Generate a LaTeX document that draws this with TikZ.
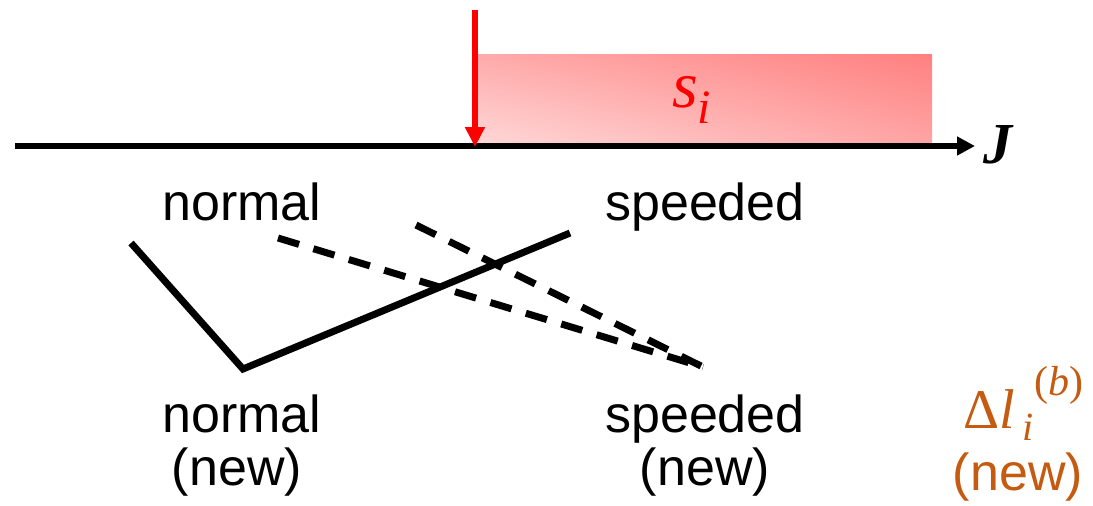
\documentclass[tikz,border=0pt]{standalone}
\usepackage{fontspec}
\setmainfont{Liberation Sans}
\newfontfamily\serifit{Liberation Serif}
\usetikzlibrary{arrows.meta,shadings}
\definecolor{redA}{RGB}{255,0,0}
\definecolor{orangeA}{RGB}{197,90,17}
\definecolor{pinkLL}{RGB}{255,216,216}
\definecolor{pinkUR}{RGB}{255,128,128}
\definecolor{pinkUL}{RGB}{255,170,170}
\definecolor{pinkLR}{RGB}{255,165,165}
\tikzset{
  lbl/.style={font=\fontsize{52}{56}\selectfont, inner sep=0pt, anchor=base},
  thick line/.style={line width=7pt, line join=miter},
  dash line/.style={line width=7pt, dash pattern=on 22pt off 15pt},
}
\begin{document}
\begin{tikzpicture}[x=1pt,y=-1pt]
\useasboundingbox (0,0) rectangle (1093,506);
% shaded interval
\shade[lower left=pinkLL, upper right=pinkUR, upper left=pinkUL, lower right=pinkLR]
  (478,146) rectangle (932,54);
\node[inner sep=0pt, anchor=base west, text=redA] (si) at (672,107)
  {\serifit\fontsize{66}{66}\selectfont\textit{s}\raisebox{-16pt}{\fontsize{48}{48}\selectfont\textit{i}}};
% axis
\coordinate (ax0) at (15,146);
\coordinate (ax1) at (975,146);
\draw[line width=6.5pt, -{Triangle[length=18pt,width=18pt]}] (ax0) -- (ax1);
\node[inner sep=0pt, anchor=base west] (J) at (983,163)
  {\serifit\fontsize{58}{58}\selectfont\bfseries\itshape J};
% red arrow
\coordinate (r0) at (475,10);
\coordinate (r1) at (475,147);
\draw[redA, line width=6.5pt, -{Triangle[length=20pt,width=19pt]}] (r0) -- (r1);
% labels
\node[lbl] (ntop) at (242,220) {normal};
\node[lbl] (stop) at (705,220) {speeded};
\node[lbl] (nbot) at (242,432) {normal};
\node[lbl] (nbotnew) at (237,485) {(new)};
\node[lbl] (sbot) at (705,432) {speeded};
\node[lbl] (sbotnew) at (705,485) {(new)};
\node[inner sep=0pt, anchor=base west, text=orangeA] (dl) at (963,428)
  {\serifit\fontsize{56}{56}\selectfont Δ\textit{l}\rlap{\hspace{8pt}\raisebox{-12pt}{\fontsize{40}{40}\selectfont\textit{i}}}\hspace{20pt}\raisebox{33pt}{\fontsize{42}{42}\selectfont(\textit{b})}};
\node[lbl, text=orangeA] (dlnew) at (1018,490) {(new)};
% lines
\coordinate (a) at (131,243);
\coordinate (b) at (243,369);
\coordinate (c) at (570,233);
\coordinate (d1) at (278,238);
\coordinate (d2) at (416,225);
\coordinate (e) at (703,367);
\draw[thick line] (a) -- (b) -- (c);
\draw[dash line] (d1) -- (e);
\draw[dash line] (d2) -- (e);
\end{tikzpicture}
\end{document}
